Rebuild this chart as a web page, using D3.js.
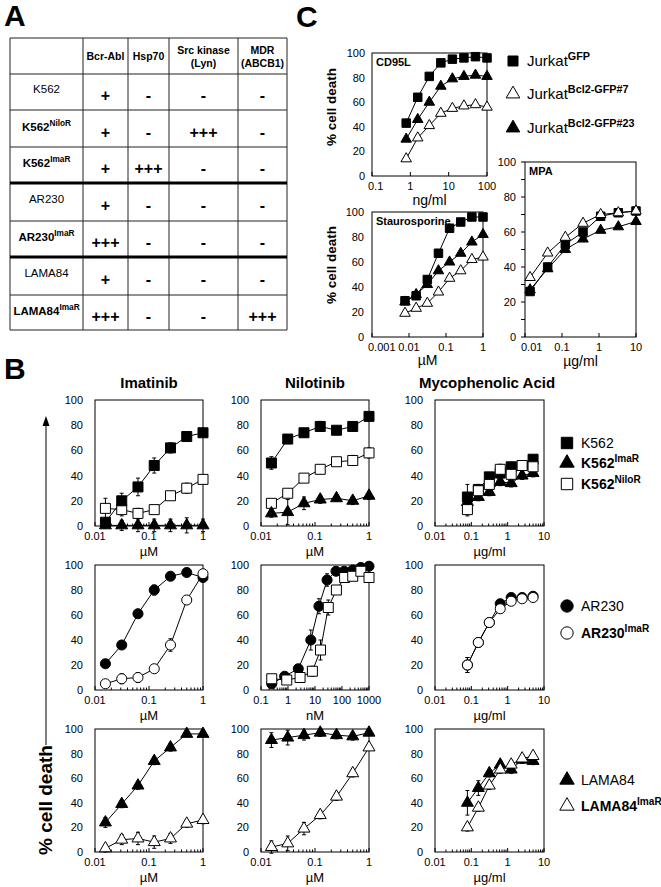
<!DOCTYPE html>
<html>
<head>
<meta charset="utf-8">
<script src="https://cdn.jsdelivr.net/npm/d3@7"></script>
<style>
body { margin: 0; background: #fff; }
svg text { font-family: "Liberation Sans", Arial, sans-serif; fill: #000; }
</style>
</head>
<body>
<script>
const WIDTH = 661;
const HEIGHT = 887;

// ---- panel A table ----
const tableHeads = [["Bcr-Abl"], ["Hsp70"], ["Src kinase", "(Lyn)"], ["MDR", "(ABCB1)"]];
const cellLines = ["K562", "K562", "K562", "AR230", "AR230", "LAMA84", "LAMA84"];
const cellSups = ["", "NiloR", "ImaR", "", "ImaR", "", "ImaR"];
const bcrAbl = ["+", "+", "+", "+", "+++", "+", "+++"];
const hsp70 = ["-", "-", "+++", "-", "-", "-", "-"];
const srcLyn = ["-", "+++", "-", "-", "-", "-", "-"];
const mdr = ["-", "-", "-", "-", "-", "-", "+++"];

// ---- panel C (Jurkat) ----
const cd95Dose = [0.78, 1.56, 3.125, 6.25, 12.5, 25, 50, 100];
const cd95Gfp = [43, 64, 81, 92, 95, 96, 97, 96];
const cd95Bcl7 = [14, 31, 41, 51, 55, 57, 58, 56];
const cd95Bcl23 = [30, 46, 60, 73, 79, 81, 82, 81];
const stauroDose = [0.0078, 0.0156, 0.03125, 0.0625, 0.125, 0.25, 0.5, 1];
const stauroGfp = [29, 33, 46, 67, 87, 92, 96, 96];
const stauroBcl7 = [19, 23, 27, 36, 47, 53, 62, 64];
const stauroBcl23 = [28, 34, 42, 53, 60, 67, 76, 82];
const mpaDoseC = [0.0137, 0.041, 0.123, 0.37, 1.11, 3.33, 10];
const mpaGfp = [26, 40, 53, 60, 69, 71, 72];
const mpaBcl7 = [34, 48, 57, 65, 70, 71, 72];
const mpaBcl23 = [27, 39, 50, 56, 61, 63, 66];

// ---- panel B doses ----
const tkiDose = [0.0156, 0.03125, 0.0625, 0.125, 0.25, 0.5, 1];
const mpaDoseB = [0.078, 0.156, 0.3125, 0.625, 1.25, 2.5, 5];
const niloNmDoseAR = [0.25, 0.75, 2.4, 7, 14, 28, 60, 120, 250, 500, 1000];
const niloNmDoseARImaR = [0.25, 0.9, 2.8, 8, 16, 31, 62, 125, 250, 500, 1000];

// K562 row
const k562Ima = [3, 20, 31, 48, 62, 71, 74];
const k562ImaErr = [3, 6, 7, 6, 4, 3, 3];
const k562NiloRIma = [14, 13, 10, 13, 24, 30, 37];
const k562NiloRImaErr = [8, 5, 4, 3, 3, 4, 3];
const k562ImaRIma = [0.5, 0.5, 0.5, 0.5, 0.5, 0.5, 0.5];
const k562ImaRImaErr = [2, 4, 5, 5, 5, 6, 5];
const k562Nilo = [50, 69, 74, 79, 76, 79, 87];
const k562NiloErr = [5, 3, 2, 4, 2, 3, 3];
const k562NiloRNilo = [18, 26, 38, 45, 51, 52, 58];
const k562NiloRNiloErr = [3, 3, 3, 3, 2, 4, 4];
const k562ImaRNilo = [10, 11, 18, 21, 22, 20, 24];
const k562ImaRNiloErr = [3, 10, 5, 3, 2, 3, 3];
const k562Mpa = [23, 29, 39, 42, 47, 48, 53];
const k562MpaErr = [10, 4, 3, 3, 3, 3, 3];
const k562NiloRMpa = [13, 28, 33, 45, 41, 48, 47];
const k562NiloRMpaErr = [5, 3, 3, 4, 3, 3, 3];
const k562ImaRMpa = [19, 23, 27, 35, 34, 40, 42];
const k562ImaRMpaErr = [4, 3, 3, 3, 3, 3, 3];

// AR230 row
const ar230Ima = [21, 36, 61, 80, 91, 94, 90];
const ar230ImaErr = [2, 3, 3, 4, 3, 2, 3];
const ar230ImaRIma = [5, 9, 10, 17, 36, 72, 93];
const ar230ImaRImaErr = [2, 4, 4, 3, 5, 3, 3];
const ar230Nilo = [5, 11, 17, 40, 67, 88, 95, 95, 96, 98, 99];
const ar230NiloErr = [2, 2, 2, 8, 6, 5, 3, 3, 3, 2, 2];
const ar230ImaRNilo = [9, 8, 10, 15, 32, 66, 80, 90, 91, 95, 90];
const ar230ImaRNiloErr = [2, 2, 3, 4, 8, 6, 3, 3, 3, 3, 4];
const ar230Mpa = [20, 38, 54, 69, 74, 74, 75];
const ar230MpaErr = [6, 3, 3, 3, 3, 3, 3];
const ar230ImaRMpa = [20, 38, 54, 65, 71, 73, 74];
const ar230ImaRMpaErr = [6, 3, 3, 3, 3, 3, 3];

// LAMA84 row
const lamaIma = [24, 39, 54, 74, 85, 96, 96];
const lamaImaErr = [4, 3, 3, 3, 3, 2, 2];
const lamaImaRIma = [3, 10, 11, 8, 11, 23, 26];
const lamaImaRImaErr = [3, 4, 5, 5, 4, 3, 3];
const lamaNilo = [91, 93, 95, 97, 95, 94, 97];
const lamaNiloErr = [6, 6, 4, 3, 3, 3, 2];
const lamaImaRNilo = [4, 7, 19, 30, 45, 64, 85];
const lamaImaRNiloErr = [5, 6, 5, 3, 3, 3, 2];
const lamaMpa = [40, 52, 64, 71, 67, 75, 74];
const lamaMpaErr = [10, 6, 3, 3, 3, 3, 3];
const lamaImaRMpa = [20, 36, 54, 67, 71, 76, 78];
const lamaImaRMpaErr = [3, 3, 3, 3, 3, 3, 3];

const pctTicks = [0, 20, 40, 60, 80, 100];

var svg = d3.select('body').append('svg')
	.attr('width', WIDTH)
	.attr('height', HEIGHT);

var richText = function(sel, x, y, main, sup, size, bold, anchor) {
	var t = sel.append('text')
		.attr('x', x).attr('y', y)
		.attr('font-size', size)
		.attr('font-weight', bold ? 'bold' : 'normal')
		.attr('text-anchor', anchor || 'start');
	t.append('tspan').text(main);
	if (sup) {
		t.append('tspan')
			.attr('dy', -size * 0.42)
			.attr('font-size', size * 0.72)
			.attr('font-weight', 'bold')
			.text(sup);
	}
	return t;
}

var symbolPath = function(kind, size) {
	var type = {square: d3.symbolSquare, triangle: d3.symbolTriangle, circle: d3.symbolCircle}[kind];
	return d3.symbol().type(type).size(size)();
}

// ---------------- panel A ----------------
var drawTable = function() {
	var colX = [10, 83, 128, 169, 238, 287];
	var rowY = [38, 74, 110, 147, 183, 221, 257, 295, 330];
	var g = svg.append('g');
	g.append('text').attr('x', 4).attr('y', 26).attr('font-size', 30).attr('font-weight', 'bold').text('A');

	colX.forEach(function(x) {
		g.append('line').attr('x1', x).attr('x2', x).attr('y1', rowY[0]).attr('y2', rowY[8])
			.attr('stroke', '#222').attr('stroke-width', 1);
	});
	rowY.forEach(function(y, i) {
		var thick = (i === 4 || i === 6);
		g.append('line').attr('x1', colX[0]).attr('x2', colX[5]).attr('y1', y).attr('y2', y)
			.attr('stroke', thick ? '#000' : '#222').attr('stroke-width', thick ? 3 : 1);
	});

	tableHeads.forEach(function(lines, c) {
		var cx = (colX[c + 1] + colX[c + 2]) / 2;
		var cy = (rowY[0] + rowY[1]) / 2;
		lines.forEach(function(s, k) {
			g.append('text').attr('x', cx).attr('y', cy + 4 + (k - (lines.length - 1) / 2) * 13)
				.attr('text-anchor', 'middle').attr('font-size', 10.5).attr('font-weight', 'bold').text(s);
		});
	});

	var cols = [bcrAbl, hsp70, srcLyn, mdr];
	cellLines.forEach(function(name, r) {
		var top = rowY[r + 1], bot = rowY[r + 2];
		var cy = (top + bot) / 2;
		var sup = cellSups[r];
		richText(g, (colX[0] + colX[1]) / 2, cy + (sup ? 2 : 1), name, sup, 11.5, !!sup, 'middle');
		cols.forEach(function(col, c) {
			g.append('text').attr('x', (colX[c + 1] + colX[c + 2]) / 2).attr('y', cy + 9)
				.attr('text-anchor', 'middle').attr('font-size', 16).attr('font-weight', 'bold')
				.text(col[r]);
		});
	});
}

// ---------------- generic dose-response plot ----------------
var drawPlot = function(o) {
	var g = svg.append('g');
	var x = d3.scaleLog().domain(o.xDomain).range([o.left, o.right]);
	var y = d3.scaleLinear().domain([0, 100]).range([o.bottom, o.top]);

	// y tick labels
	pctTicks.forEach(function(v) {
		g.append('text').attr('x', o.left - o.yGap).attr('y', y(v) + 4)
			.attr('text-anchor', 'end').attr('font-size', 11).text(v);
	});
	if (o.yMinor) {
		d3.range(0, 101, 10).forEach(function(v) {
			g.append('line').attr('x1', o.left - 4).attr('x2', o.left).attr('y1', y(v)).attr('y2', y(v))
				.attr('stroke', '#000');
		});
	}

	// x axis: decade ticks, minor ticks, labels
	var lo = Math.round(Math.log10(o.xDomain[0])), hi = Math.round(Math.log10(o.xDomain[1]));
	for (var e = lo; e <= hi; e++) {
		var dec = Math.pow(10, e);
		g.append('line').attr('x1', x(dec)).attr('x2', x(dec)).attr('y1', o.bottom).attr('y2', o.bottom - 4)
			.attr('stroke', '#000');
		if (o.minor && e < hi) {
			for (var m = 2; m < 10; m++) {
				g.append('line').attr('x1', x(dec * m)).attr('x2', x(dec * m))
					.attr('y1', o.bottom).attr('y2', o.bottom - 2.5).attr('stroke', '#000');
			}
		}
	}
	o.xTicks.forEach(function(v, i) {
		var first = (i === 0 && o.firstLabelStart);
		g.append('text').attr('x', first ? o.left - 4 : x(v)).attr('y', o.bottom + 14)
			.attr('text-anchor', first ? 'start' : 'middle').attr('font-size', 11).text(String(v));
	});
	g.append('text').attr('x', (o.left + o.right) / 2).attr('y', o.bottom + o.unitDy)
		.attr('text-anchor', 'middle').attr('font-size', o.unitSize || 13).text(o.unit);

	// frame
	g.append('rect').attr('x', o.left).attr('y', o.top)
		.attr('width', o.right - o.left).attr('height', o.bottom - o.top)
		.attr('fill', 'none').attr('stroke', '#000').attr('stroke-width', 1);

	var line = d3.line().x(function(d) { return x(d.x); }).y(function(d) { return y(d.y); });
	var sets = o.series.map(function(s) {
		return s.x.map(function(v, i) { return {x: v, y: s.y[i], e: s.err ? s.err[i] : 0}; });
	});

	// error bars and lines
	sets.forEach(function(pts) {
		pts.forEach(function(d) {
			if (!d.e) return;
			var cx = x(d.x);
			g.append('line').attr('x1', cx).attr('x2', cx).attr('y1', y(d.y - d.e)).attr('y2', y(d.y + d.e))
				.attr('stroke', '#000').attr('stroke-width', 1);
			[d.y - d.e, d.y + d.e].forEach(function(v) {
				g.append('line').attr('x1', cx - 2).attr('x2', cx + 2).attr('y1', y(v)).attr('y2', y(v))
					.attr('stroke', '#000').attr('stroke-width', 1);
			});
		});
		g.append('path').attr('d', line(pts)).attr('fill', 'none').attr('stroke', '#000').attr('stroke-width', 1);
	});

	// markers
	sets.forEach(function(pts, k) {
		var s = o.series[k];
		g.append('g').selectAll('path').data(pts).enter().append('path')
			.attr('d', symbolPath(s.sym, o.symSize[s.sym]))
			.attr('transform', function(d) { return 'translate(' + x(d.x) + ',' + y(d.y) + ')'; })
			.attr('fill', s.fill).attr('stroke', '#000').attr('stroke-width', 1);
	});

	if (o.note) {
		g.append('text').attr('x', o.left + 4).attr('y', o.top + 13)
			.attr('font-size', 11).attr('font-weight', 'bold').text(o.note);
	}
	return g;
}

var drawLegend = function(x, items, size, symSize) {
	items.forEach(function(it) {
		svg.append('path').attr('d', symbolPath(it.sym, symSize[it.sym]))
			.attr('transform', 'translate(' + x + ',' + it.y + ')')
			.attr('fill', it.fill).attr('stroke', '#000').attr('stroke-width', 1);
		richText(svg, x + 14, it.y + 5, it.name, it.sup, size, it.bold, 'start');
	});
}

// ---------------- panel C ----------------
var drawPanelC = function() {
	var symC = {square: 72, triangle: 48, circle: 60};
	svg.append('text').attr('x', 296).attr('y', 27).attr('font-size', 30).attr('font-weight', 'bold').text('C');

	drawPlot({left: 372, right: 487, top: 53, bottom: 176, yGap: 7, xDomain: [0.1, 100], firstLabelStart: true,
		xTicks: [0.1, 1, 10, 100], unit: 'ng/ml', unitDy: 29, unitSize: 14, note: 'CD95L', symSize: symC,
		series: [
			{x: cd95Dose, y: cd95Gfp, sym: 'square', fill: '#000'},
			{x: cd95Dose, y: cd95Bcl23, sym: 'triangle', fill: '#000'},
			{x: cd95Dose, y: cd95Bcl7, sym: 'triangle', fill: '#fff'}
		]});
	drawPlot({left: 372, right: 483, top: 212, bottom: 337, yGap: 8, xDomain: [0.001, 1], firstLabelStart: true,
		xTicks: [0.001, 0.01, 0.1, 1], unit: 'µM', unitDy: 28, unitSize: 14, note: 'Staurosporine', symSize: symC,
		series: [
			{x: stauroDose, y: stauroGfp, sym: 'square', fill: '#000'},
			{x: stauroDose, y: stauroBcl23, sym: 'triangle', fill: '#000'},
			{x: stauroDose, y: stauroBcl7, sym: 'triangle', fill: '#fff'}
		]});
	drawPlot({left: 525, right: 636, top: 162, bottom: 337, yGap: 9, yMinor: true, xDomain: [0.01, 10], firstLabelStart: true,
		xTicks: [0.01, 0.1, 1, 10], unit: 'µg/ml', unitDy: 29, unitSize: 14, note: 'MPA', symSize: symC,
		series: [
			{x: mpaDoseC, y: mpaGfp, sym: 'square', fill: '#000'},
			{x: mpaDoseC, y: mpaBcl23, sym: 'triangle', fill: '#000'},
			{x: mpaDoseC, y: mpaBcl7, sym: 'triangle', fill: '#fff'}
		]});

	[[107, '% cell death'], [265, '% cell death']].forEach(function(d) {
		svg.append('text').attr('transform', 'translate(336,' + d[0] + ') rotate(-90)')
			.attr('text-anchor', 'middle').attr('font-size', 13.5).attr('font-weight', 'bold').text(d[1]);
	});

	drawLegend(513, [
		{y: 61, sym: 'square', fill: '#000', name: 'Jurkat', sup: 'GFP'},
		{y: 94, sym: 'triangle', fill: '#fff', name: 'Jurkat', sup: 'Bcl2-GFP#7'},
		{y: 128, sym: 'triangle', fill: '#000', name: 'Jurkat', sup: 'Bcl2-GFP#23'}
	], 15, {square: 100, triangle: 80});
}

// ---------------- panel B ----------------
var drawPanelB = function() {
	var symB = {square: 100, triangle: 62, circle: 80};
	var cols = [[95, 203], [261, 369], [435, 544]];
	var rows = [[400, 526], [565, 690], [729, 852]];
	var tkiTicks = [0.01, 0.1, 1];
	var mpaTicks = [0.01, 0.1, 1, 10];

	svg.append('text').attr('x', 4).attr('y', 379).attr('font-size', 30).attr('font-weight', 'bold').text('B');
	[['Imatinib', 149], ['Nilotinib', 315], ['Mycophenolic Acid', 487]].forEach(function(d) {
		svg.append('text').attr('x', d[1]).attr('y', 388).attr('text-anchor', 'middle')
			.attr('font-size', 15).attr('font-weight', 'bold').text(d[0]);
	});

	var base = function(c, r) {
		return {left: cols[c][0], right: cols[c][1], top: rows[r][0], bottom: rows[r][1],
			yGap: 12, minor: true, unitDy: 30, symSize: symB};
	};
	var mk = function(c, r, extra) { return Object.assign(base(c, r), extra); };

	// row 1: K562
	drawPlot(mk(0, 0, {xDomain: [0.01, 1], xTicks: tkiTicks, unit: 'µM', series: [
		{x: tkiDose, y: k562NiloRIma, err: k562NiloRImaErr, sym: 'square', fill: '#fff'},
		{x: tkiDose, y: k562ImaRIma, err: k562ImaRImaErr, sym: 'triangle', fill: '#000'},
		{x: tkiDose, y: k562Ima, err: k562ImaErr, sym: 'square', fill: '#000'}]}));
	drawPlot(mk(1, 0, {xDomain: [0.01, 1], xTicks: tkiTicks, unit: 'µM', series: [
		{x: tkiDose, y: k562Nilo, err: k562NiloErr, sym: 'square', fill: '#000'},
		{x: tkiDose, y: k562NiloRNilo, err: k562NiloRNiloErr, sym: 'square', fill: '#fff'},
		{x: tkiDose, y: k562ImaRNilo, err: k562ImaRNiloErr, sym: 'triangle', fill: '#000'}]}));
	drawPlot(mk(2, 0, {xDomain: [0.01, 10], xTicks: mpaTicks, unit: 'µg/ml', series: [
		{x: mpaDoseB, y: k562ImaRMpa, err: k562ImaRMpaErr, sym: 'triangle', fill: '#000'},
		{x: mpaDoseB, y: k562Mpa, err: k562MpaErr, sym: 'square', fill: '#000'},
		{x: mpaDoseB, y: k562NiloRMpa, err: k562NiloRMpaErr, sym: 'square', fill: '#fff'}]}));

	// row 2: AR230
	drawPlot(mk(0, 1, {xDomain: [0.01, 1], xTicks: tkiTicks, unit: 'µM', series: [
		{x: tkiDose, y: ar230Ima, err: ar230ImaErr, sym: 'circle', fill: '#000'},
		{x: tkiDose, y: ar230ImaRIma, err: ar230ImaRImaErr, sym: 'circle', fill: '#fff'}]}));
	drawPlot(mk(1, 1, {xDomain: [0.1, 1000], xTicks: [0.1, 1, 10, 100, 1000], unit: 'nM', series: [
		{x: niloNmDoseAR, y: ar230Nilo, err: ar230NiloErr, sym: 'circle', fill: '#000'},
		{x: niloNmDoseARImaR, y: ar230ImaRNilo, err: ar230ImaRNiloErr, sym: 'square', fill: '#fff'}]}));
	drawPlot(mk(2, 1, {xDomain: [0.01, 10], xTicks: mpaTicks, unit: 'µg/ml', series: [
		{x: mpaDoseB, y: ar230Mpa, err: ar230MpaErr, sym: 'circle', fill: '#000'},
		{x: mpaDoseB, y: ar230ImaRMpa, err: ar230ImaRMpaErr, sym: 'circle', fill: '#fff'}]}));

	// row 3: LAMA84
	drawPlot(mk(0, 2, {xDomain: [0.01, 1], xTicks: tkiTicks, unit: 'µM', series: [
		{x: tkiDose, y: lamaIma, err: lamaImaErr, sym: 'triangle', fill: '#000'},
		{x: tkiDose, y: lamaImaRIma, err: lamaImaRImaErr, sym: 'triangle', fill: '#fff'}]}));
	drawPlot(mk(1, 2, {xDomain: [0.01, 1], xTicks: tkiTicks, unit: 'µM', series: [
		{x: tkiDose, y: lamaNilo, err: lamaNiloErr, sym: 'triangle', fill: '#000'},
		{x: tkiDose, y: lamaImaRNilo, err: lamaImaRNiloErr, sym: 'triangle', fill: '#fff'}]}));
	drawPlot(mk(2, 2, {xDomain: [0.01, 10], xTicks: mpaTicks, unit: 'µg/ml', series: [
		{x: mpaDoseB, y: lamaMpa, err: lamaMpaErr, sym: 'triangle', fill: '#000'},
		{x: mpaDoseB, y: lamaImaRMpa, err: lamaImaRMpaErr, sym: 'triangle', fill: '#fff'}]}));

	// legends
	var legSym = {square: 130, triangle: 90, circle: 120};
	drawLegend(567, [
		{y: 443, sym: 'square', fill: '#000', name: 'K562', sup: '', bold: false},
		{y: 463, sym: 'triangle', fill: '#000', name: 'K562', sup: 'ImaR', bold: true},
		{y: 484, sym: 'square', fill: '#fff', name: 'K562', sup: 'NiloR', bold: true}
	], 14, legSym);
	drawLegend(567, [
		{y: 606, sym: 'circle', fill: '#000', name: 'AR230', sup: '', bold: false},
		{y: 633, sym: 'circle', fill: '#fff', name: 'AR230', sup: 'ImaR', bold: true}
	], 14, legSym);
	drawLegend(567, [
		{y: 780, sym: 'triangle', fill: '#000', name: 'LAMA84', sup: '', bold: false},
		{y: 806, sym: 'triangle', fill: '#fff', name: 'LAMA84', sup: 'ImaR', bold: true}
	], 14, legSym);

	// shared y title with arrow
	svg.append('text').attr('transform', 'translate(52,800) rotate(-90)')
		.attr('text-anchor', 'middle').attr('font-size', 19).attr('font-weight', 'bold').text('% cell death');
	svg.append('line').attr('x1', 46).attr('x2', 46).attr('y1', 745).attr('y2', 424)
		.attr('stroke', '#000').attr('stroke-width', 1);
	svg.append('path').attr('d', 'M46,416 L42.5,426 L49.5,426 Z').attr('fill', '#000');
}

window.onload = function() {
	drawTable();
	drawPanelC();
	drawPanelB();
}
</script>
</body>
</html>
